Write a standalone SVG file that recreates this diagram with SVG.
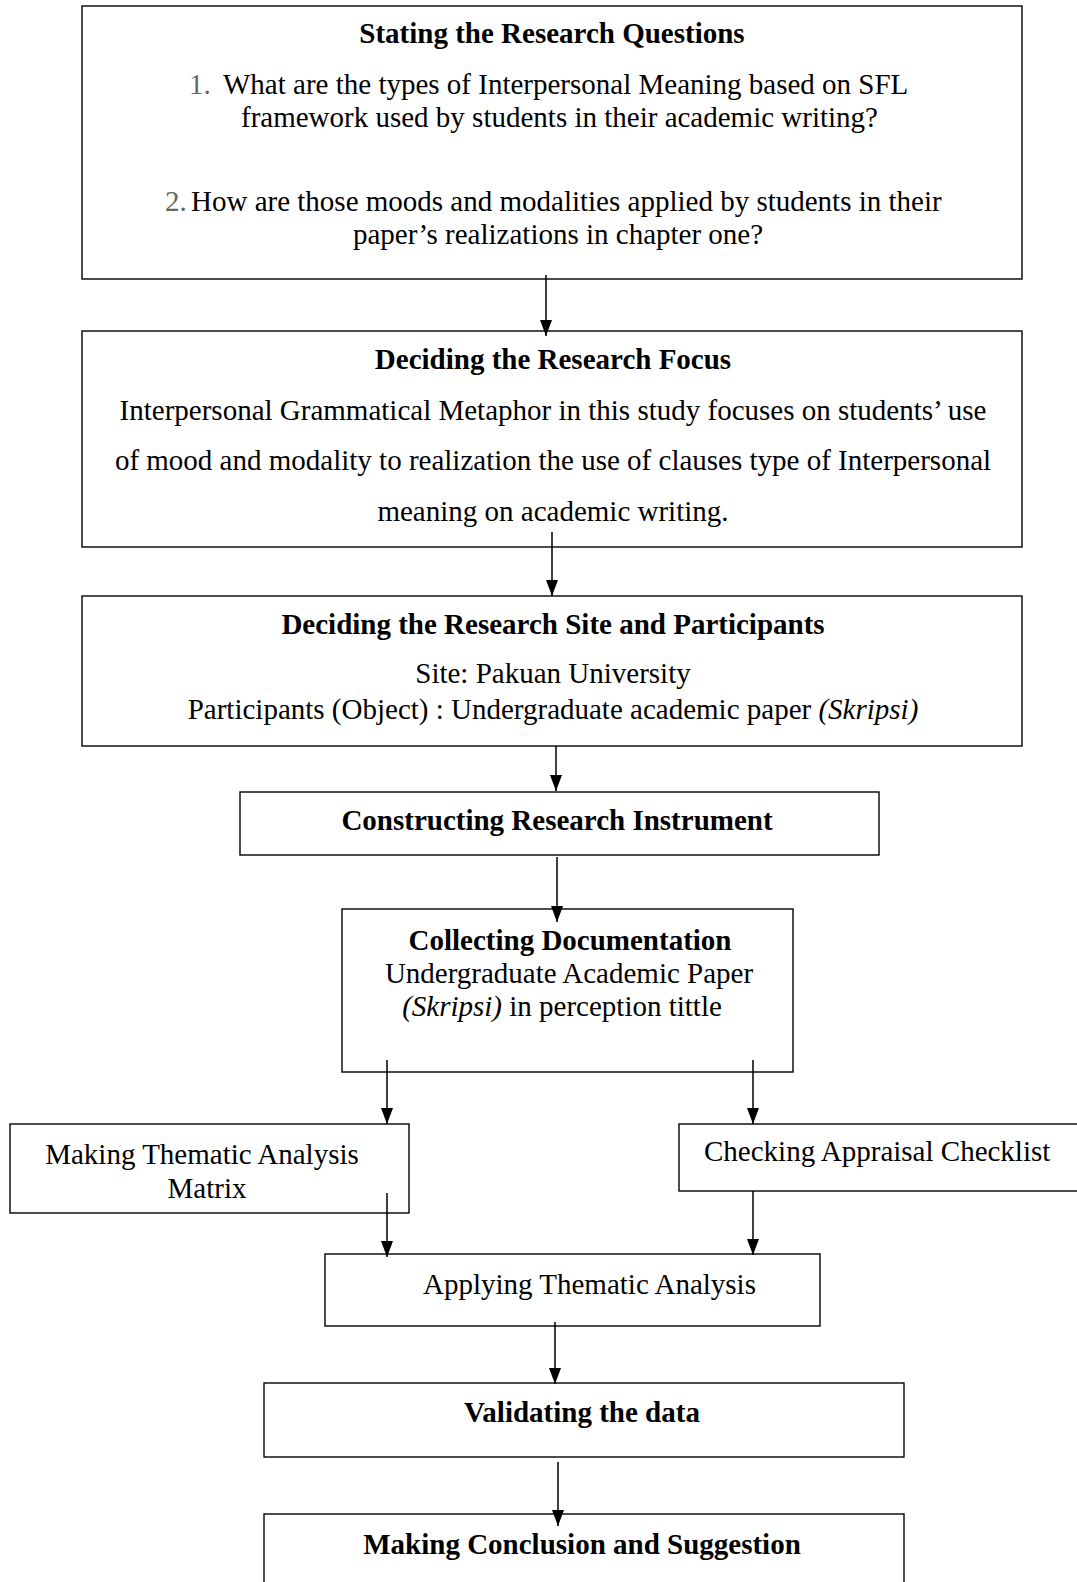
<svg xmlns="http://www.w3.org/2000/svg" width="1077" height="1582" viewBox="0 0 1077 1582">
<style>
text{font-family:"Liberation Serif","Times New Roman",serif;font-size:29px;fill:#000}
.b{font-weight:bold}
.c{text-anchor:middle}
.n{fill:#666}
.box{fill:#fff;stroke:#000;stroke-width:1.4}
.con line{stroke:#000;stroke-width:1.5;marker-end:url(#ah)}
</style>
<defs>
<marker id="ah" markerUnits="userSpaceOnUse" markerWidth="16" markerHeight="12" refX="16" refY="6" orient="auto">
<path d="M0,0 L16,6 L0,12 z" fill="#000"/>
</marker>
</defs>
<rect width="1077" height="1582" fill="#fff"/>
<g id="n1">
<rect class="box" x="82" y="6" width="940" height="273"/>
<text class="b c" x="552" y="43">Stating the Research Questions</text>
<text x="189" y="94"><tspan class="n">1.</tspan><tspan x="223">What are the types of Interpersonal Meaning based on SFL</tspan></text>
<text x="241" y="127">framework used by students in their academic writing?</text>
<text x="165" y="211"><tspan class="n">2.</tspan><tspan x="191">How are those moods and modalities applied by students in their</tspan></text>
<text x="353" y="244">paper’s realizations in chapter one?</text>
</g>
<g id="n2">
<rect class="box" x="82" y="331" width="940" height="216"/>
<text class="b c" x="553" y="369">Deciding the Research Focus</text>
<text class="c" x="553" y="420">Interpersonal Grammatical Metaphor in this study focuses on students’ use</text>
<text class="c" x="553" y="470">of mood and modality to realization the use of clauses type of Interpersonal</text>
<text class="c" x="553" y="521">meaning on academic writing.</text>
</g>
<g id="n3">
<rect class="box" x="82" y="596" width="940" height="150"/>
<text class="b c" x="553" y="634">Deciding the Research Site and Participants</text>
<text class="c" x="553" y="683">Site: Pakuan University</text>
<text class="c" x="553" y="719">Participants (Object) : Undergraduate academic paper <tspan font-style="italic">(Skripsi)</tspan></text>
</g>
<g id="n4">
<rect class="box" x="240" y="792" width="639" height="63"/>
<text class="b c" x="557" y="830">Constructing Research Instrument</text>
</g>
<g id="n5">
<rect class="box" x="342" y="909" width="451" height="163"/>
<text class="b c" x="570" y="950">Collecting Documentation</text>
<text class="c" x="569" y="983">Undergraduate Academic Paper</text>
<text class="c" x="562" y="1016"><tspan font-style="italic">(Skripsi)</tspan> in perception tittle</text>
</g>
<g id="n6">
<rect class="box" x="10" y="1124" width="399" height="89"/>
<text class="c" x="202" y="1164">Making Thematic Analysis</text>
<text class="c" x="207" y="1198">Matrix</text>
</g>
<g id="n7">
<rect class="box" x="679" y="1124" width="410" height="67"/>
<text x="704" y="1161">Checking Appraisal Checklist</text>
</g>
<g id="n8">
<rect class="box" x="325" y="1254" width="495" height="72"/>
<text x="423" y="1294">Applying Thematic Analysis</text>
</g>
<g id="n9">
<rect class="box" x="264" y="1383" width="640" height="74"/>
<text class="b c" x="582" y="1422">Validating the data</text>
</g>
<g id="n10">
<rect class="box" x="264" y="1514" width="640" height="90"/>
<text class="b c" x="582" y="1554">Making Conclusion and Suggestion</text>
</g>
<g id="connectors" class="con">
<line x1="546" y1="275" x2="546" y2="336"/>
<line x1="552" y1="532" x2="552" y2="596"/>
<line x1="556" y1="746" x2="556" y2="791"/>
<line x1="557" y1="857" x2="557" y2="922"/>
<line x1="387" y1="1060" x2="387" y2="1124"/>
<line x1="753" y1="1060" x2="753" y2="1124"/>
<line x1="387" y1="1193" x2="387" y2="1257"/>
<line x1="753" y1="1191" x2="753" y2="1255"/>
<line x1="555" y1="1322" x2="555" y2="1384"/>
<line x1="558" y1="1462" x2="558" y2="1526"/>
</g>
</svg>
